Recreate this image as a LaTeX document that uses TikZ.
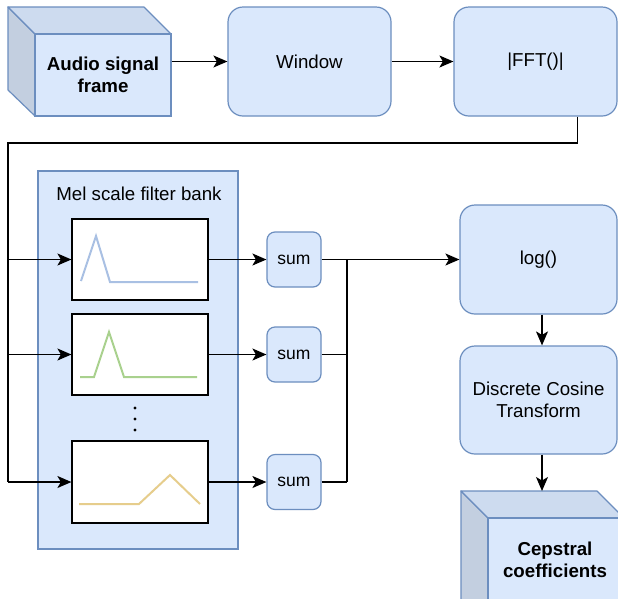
\documentclass[tikz,border=0pt]{standalone}
\usepackage{fontspec}
\setmainfont{Liberation Sans}
\usetikzlibrary{arrows.meta}
\definecolor{bfill}{HTML}{DAE8FC}
\definecolor{bdraw}{HTML}{6C8EBF}
\definecolor{bside}{HTML}{C3CFE0}
\definecolor{btop}{HTML}{CDDBEF}
\definecolor{cblue}{HTML}{A9C0E3}
\definecolor{cgreen}{HTML}{A9D18E}
\definecolor{cgold}{HTML}{E6CD8C}
\tikzset{
  box/.style={draw=bdraw, fill=bfill, line width=1.2pt, rounded corners=15pt, inner sep=0pt, align=center, font=\fontsize{18.7}{22.4}\selectfont},
  sumbox/.style={draw=bdraw, fill=bfill, line width=1.2pt, rounded corners=8pt, inner sep=0pt, minimum width=54pt, minimum height=55pt, font=\fontsize{17.5}{21}\selectfont},
  face/.style={draw=bdraw, fill=bfill, line width=1.2pt, inner sep=0pt, align=center, font=\bfseries\fontsize{18.7}{22.4}\selectfont},
  sideface/.style={draw=bdraw, fill=bside, line width=1.2pt, line join=round},
  topface/.style={draw=bdraw, fill=btop, line width=1.2pt, line join=round},
  filt/.style={draw=black, fill=white, line width=1.2pt, inner sep=0pt, minimum width=136pt},
  conn/.style={draw=black, line width=1.3pt},
  arr/.style={conn, -{Stealth[length=14pt, width=12pt, inset=3.5pt]}},
  curve/.style={line width=2pt, line join=miter}
}
\begin{document}
\begin{tikzpicture}[x=1pt, y=-1pt]
\useasboundingbox (0,0) rectangle (618,598);
\clip (0,0) rectangle (618,598);
\fill[white] (0,0) rectangle (618,598);
% Audio signal frame cube
\filldraw[sideface] (8,7) -- (35,34) -- (35,116) -- (8,90) -- cycle;
\filldraw[topface] (8,7) -- (144,7) -- (171,34) -- (35,34) -- cycle;
\node[face, minimum width=136pt, minimum height=82pt] (audio) at (103,75) {Audio signal\\frame};
% Window and FFT
\node[box, minimum width=163pt, minimum height=109pt] (win) at (309.5,61.5) {Window};
\node[box, minimum width=163pt, minimum height=109pt] (fft) at (535.5,61.5) {|FFT()|};
\draw[arr] (audio.east |- win.west) -- (win.west);
\draw[arr] (win.east) -- (fft.west);
% Mel filter bank
\node[draw=bdraw, fill=bfill, line width=1.2pt, minimum width=200pt, minimum height=378pt, inner sep=0pt] (mel) at (138,360) {};
\node[font=\fontsize{18.7}{22.4}\selectfont, inner sep=0pt] (meltitle) at (139,194) {Mel scale filter bank};
\node[filt, minimum height=81pt] (f1) at (140,259.5) {};
\node[filt, minimum height=81pt] (f2) at (140,354.5) {};
\node[filt, minimum height=82pt] (f3) at (140,482) {};
\draw[curve, cblue] (81,281) -- (96,236) -- (110,282) -- (198,282);
\draw[curve, cgreen] (80,377) -- (94,377) -- (109,332) -- (124,377) -- (197,377);
\draw[curve, cgold] (79,504) -- (139,504) -- (170,475) -- (200,504);
\foreach \yy in {408,419,430} \fill[black] (135,\yy) circle (1.7pt);
% trunk from FFT
\coordinate (ftout) at ([xshift=-40pt]fft.south east);
\coordinate (corner) at (8,143);
\coordinate (b1) at (8,259.5);
\coordinate (b2) at (8,354.5);
\coordinate (b3) at (8,482);
\draw[conn] (ftout) |- (corner) -- (b3);
\draw[arr] (b1) -- (f1.west);
\draw[arr] (b2) -- (f2.west);
\draw[arr] (b3) -- (f3.west);
% sums
\node[sumbox] (s1) at (294,259.5) {sum};
\node[sumbox] (s2) at (294,354.5) {sum};
\node[sumbox] (s3) at (294,482) {sum};
\draw[arr] (f1.east) -- (s1.west);
\draw[arr] (f2.east) -- (s2.west);
\draw[arr] (f3.east) -- (s3.west);
\coordinate (m1) at (347,259.5);
\coordinate (m2) at (347,354.5);
\coordinate (m3) at (347,482);
\draw[conn] (s1.east) -- (m1);
\draw[conn] (s2.east) -- (m2);
\draw[conn] (s3.east) -- (m3);
\draw[conn] (m1) -- (m3);
% right column
\node[box, minimum width=157pt, minimum height=109pt] (log) at (538.5,259.5) {log()};
\node[box, minimum width=157pt, minimum height=108pt] (dct) at (538.5,400) {Discrete Cosine\\Transform};
\draw[arr] (m1) -- (log.west);
\draw[arr] ([xshift=3.5pt]log.south) -- ([xshift=3.5pt]dct.north);
% Cepstral cube
\filldraw[sideface] (461,491) -- (488,518) -- (488,640) -- (461,613) -- cycle;
\filldraw[topface] (461,491) -- (597,491) -- (624,518) -- (488,518) -- cycle;
\node[face, minimum width=134pt, minimum height=84pt] (cep) at (555,560) {Cepstral\\coefficients};
\coordinate (cepin) at ([xshift=3.5pt]dct.south |- 0,491);
\draw[arr] ([xshift=3.5pt]dct.south) -- (cepin);
\end{tikzpicture}
\end{document}
